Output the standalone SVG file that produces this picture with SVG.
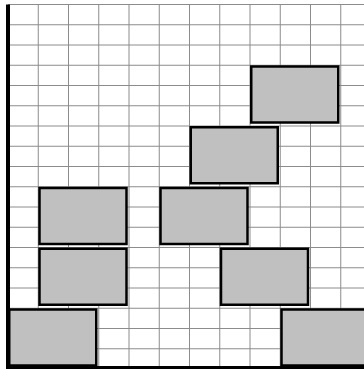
<svg xmlns="http://www.w3.org/2000/svg" width="364" height="369" viewBox="0 0 364 369">
<style>
.g{stroke:#8c8c8c;stroke-width:1;fill:none}
.ax{stroke:#000;stroke-width:4;fill:none}
.box{fill:#c0c0c0;stroke:#000;stroke-width:2.5}
</style>
<rect width="364" height="369" fill="#fff"/>
<g id="grid">
<path class="g" d="M38.25 4.5V369M68.5 4.5V369M98.75 4.5V369M129 4.5V369M159.25 4.5V369M189.5 4.5V369M219.75 4.5V369M250 4.5V369M280.25 4.5V369M310.5 4.5V369M340.75 4.5V369"/>
<path class="g" d="M8 4.5H364M8 24.75H364M8 45H364M8 65.25H364M8 85.5H364M8 105.75H364M8 126H364M8 146.25H364M8 166.5H364M8 186.75H364M8 207H364M8 227.25H364M8 247.5H364M8 267.75H364M8 288H364M8 308.25H364M8 328.5H364M8 348.75H364"/>
</g>
<g id="b1"><rect class="box" x="9.25" y="309.5" width="87" height="56"/></g>
<g id="b2"><rect class="box" x="39.5" y="248.75" width="87" height="56"/></g>
<g id="b3"><rect class="box" x="39.5" y="188" width="87" height="56"/></g>
<g id="b4"><rect class="box" x="160.5" y="188" width="87" height="56"/></g>
<g id="b5"><rect class="box" x="221" y="248.75" width="87" height="56"/></g>
<g id="b6"><rect class="box" x="281.5" y="309.5" width="87" height="56"/></g>
<g id="b7"><rect class="box" x="190.75" y="127.25" width="87" height="56"/></g>
<g id="b8"><rect class="box" x="251.25" y="66.5" width="87" height="56"/></g>
<g id="axes">
<path class="ax" d="M8 4.5V368H364"/>
</g>
<g id="connectors"/>
</svg>
